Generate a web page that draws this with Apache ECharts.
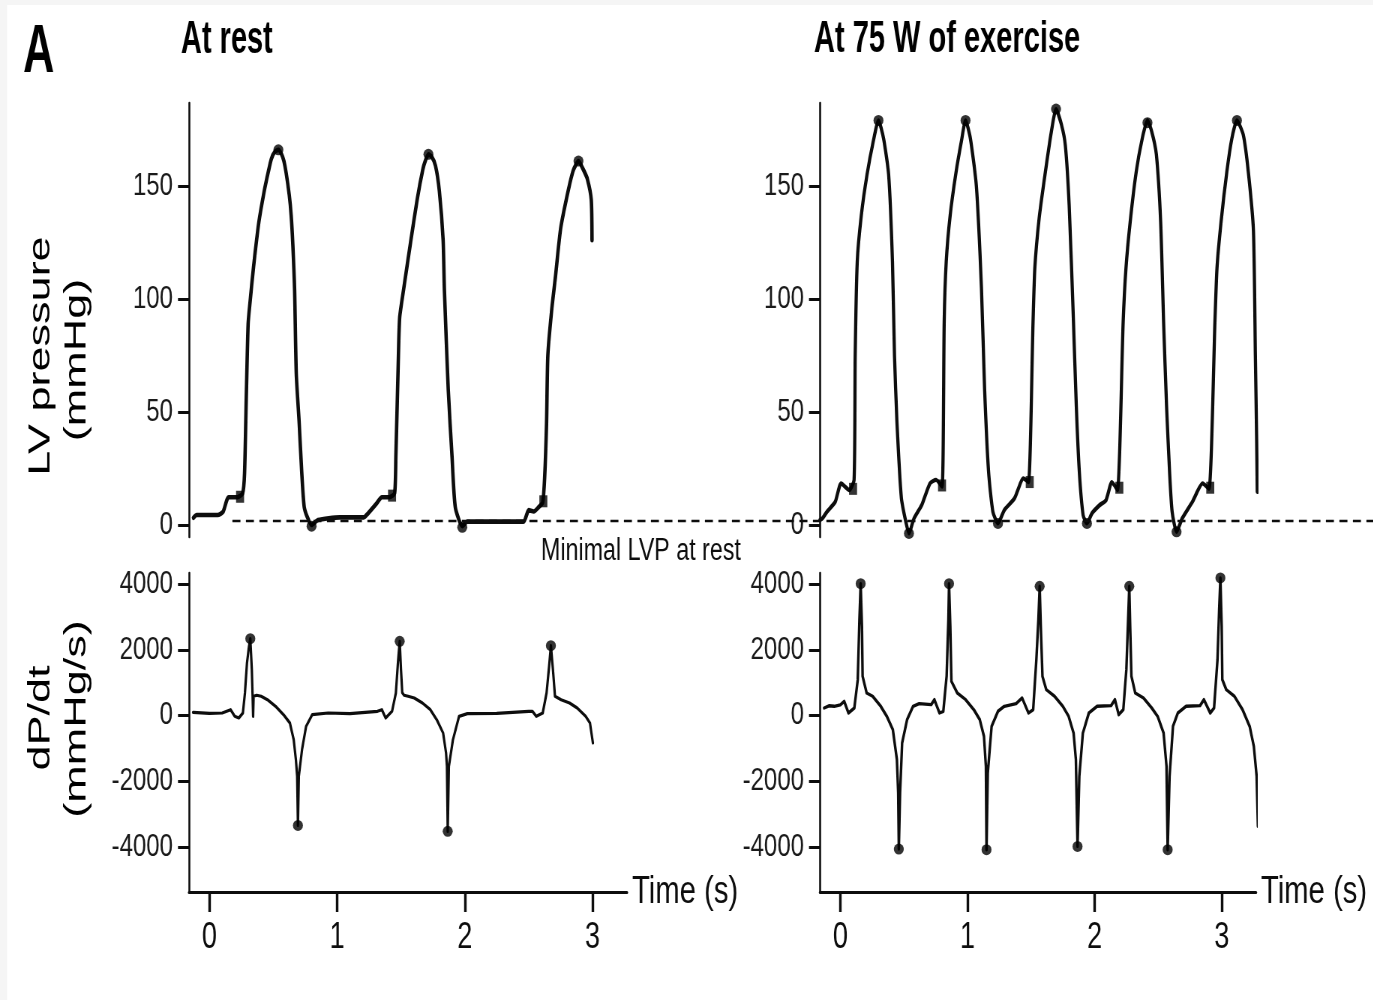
<!DOCTYPE html>
<html>
<head>
<meta charset="utf-8">
<script src="https://cdn.jsdelivr.net/npm/echarts@6/dist/echarts.min.js"></script>
<style>
  html, body { margin: 0; padding: 0; background: #fff; overflow: hidden; }
  #wrap { width: 1373px; height: 1000px; overflow: hidden; position: relative; }
  #chart { height: 1000px; transform-origin: 0 0; position: absolute; left: 0; top: 0; }
</style>
</head>
<body>
<div id="wrap"><div id="chart"></div></div>
<script>
// ---------- tick labels ----------
const timeTicks = [0, 1, 2, 3];
const lvpTicks = [0, 50, 100, 150];
const dpdtTicks = [-4000, -2000, 0, 2000, 4000];

// ---------- texts ----------
const panelLetter = 'A';
const restTitle = 'At rest';
const exerciseTitle = 'At 75 W of exercise';
const lvpNameLines = ['LV pressure', '(mmHg)'];
const dpdtNameLines = ['dP/dt', '(mmHg/s)'];
const timeName = 'Time (s)';
const minLvpLabel = 'Minimal LVP at rest';

// ---------- reference line (minimal LVP at rest, mmHg) ----------
const minLvpLine = [[0.18, 1.8], [9.2, 1.8]];

// ---------- LV pressure at rest [time s, mmHg] ----------
const restLvp = [
  [-0.125,3.2],[-0.10,4.4],[0.065,4.4],[0.107,5.9],[0.15,12.3],[0.22,12.3],[0.26,14],[0.275,23],
  [0.29,60],[0.303,89],[0.317,98],[0.345,114],[0.387,134],[0.43,148],[0.46,156],[0.485,162],
  [0.51,165],[0.54,166],[0.565,164],[0.583,161],[0.60,156],[0.625,146],[0.64,137],[0.653,124],
  [0.667,104],[0.68,67],[0.703,45],[0.723,23],[0.742,8],[0.765,3.7],[0.80,0],[0.85,2.2],
  [1.02,3.4],[1.21,3.4],[1.24,5],[1.31,9.6],[1.35,12.3],[1.41,12.3],[1.45,14],[1.46,30],
  [1.48,75],[1.49,92],[1.52,104],[1.575,125],[1.63,145],[1.67,157],[1.69,161],[1.715,164],
  [1.74,163],[1.77,159],[1.80,148],[1.83,126],[1.84,104],[1.87,60],[1.90,30],[1.925,8],
  [1.98,-0.5],[2.02,1.5],[2.46,1.5],[2.50,6.6],[2.54,6],[2.58,8],[2.61,10],[2.625,21],
  [2.64,45],[2.65,75],[2.68,95],[2.71,110],[2.75,131],[2.81,148],[2.85,157],[2.89,161],
  [2.93,157],[2.96,153],[2.99,144],[2.996,126]
];
const restLvpDots = [[0.54,166],[0.80,-0.5],[1.715,164],[1.98,-1],[2.89,161]];
const restLvpEdp = [[0.24,12.5],[1.43,13],[2.615,10.5]];

// ---------- LV pressure at 75 W [time s, mmHg] ----------
const exLvp = [
  [-0.16,2.2],[-0.14,3],[-0.105,5.9],[-0.04,10.3],[0.006,18.4],[0.07,15.5],[0.108,20],[0.117,75],
  [0.133,116.5],[0.165,137],[0.21,155],[0.26,170],[0.30,179],[0.34,171],[0.38,155],[0.41,116.5],
  [0.426,75],[0.445,46],[0.48,12],[0.515,1.5],[0.54,-3.7],[0.58,3],[0.64,8.8],[0.705,18.4],
  [0.753,20],[0.80,17],[0.817,90],[0.833,116.5],[0.864,137],[0.91,156],[0.953,170],[0.985,179],
  [1.023,171],[1.07,150],[1.11,105],[1.135,60],[1.166,23.6],[1.20,5.9],[1.24,0.7],[1.29,6.6],
  [1.37,11.8],[1.44,20.6],[1.48,19],[1.516,90],[1.53,113.6],[1.564,135.7],[1.61,155],[1.66,174],
  [1.697,184],[1.74,177],[1.77,168],[1.80,141.6],[1.834,90],[1.856,53],[1.88,23.6],[1.91,4.4],
  [1.94,0.7],[1.98,5.2],[2.04,8.8],[2.09,11],[2.136,19],[2.18,15.5],[2.225,90],[2.247,113.6],
  [2.28,134],[2.327,156],[2.375,171],[2.416,179],[2.45,174],[2.486,164],[2.52,134],[2.543,90],
  [2.566,53],[2.59,23.6],[2.61,5.9],[2.645,-3],[2.69,3],[2.77,10.3],[2.85,18.4],[2.90,16],
  [2.947,90],[2.963,113.6],[2.995,134],[3.04,156],[3.08,171],[3.12,179],[3.17,172.6],[3.21,156],
  [3.25,130],[3.265,75],[3.275,38],[3.28,14.7]
];
const exLvpDots = [[0.30,179],[0.54,-3.7],[0.985,179],[1.24,0.7],[1.697,184],[1.94,0.7],[2.416,178],[2.645,-3],[3.12,179]];
const exLvpEdp = [[0.10,16],[0.80,17.5],[1.49,19],[2.195,16.5],[2.91,16.5]];

// ---------- dP/dt at rest [time s, mmHg/s] ----------
const restDpdt = [
  [-0.128,101],[0.0,70],[0.10,81],[0.166,182],[0.198,-20],[0.23,-71],[0.262,81],[0.278,689],
  [0.294,1600],[0.31,2107],[0.32,2340],[0.332,1398],[0.338,600],[0.342,-20],[0.346,590],[0.37,620],
  [0.405,590],[0.454,486],[0.518,284],[0.58,30],[0.63,-223],[0.66,-730],[0.677,-1337],[0.687,-1844],
  [0.693,-3333],[0.70,-1844],[0.725,-1033],[0.757,-324],[0.805,30],[0.93,81],[1.10,60],[1.316,132],
  [1.35,182],[1.38,-71],[1.43,132],[1.46,689],[1.476,1600],[1.49,2259],[1.50,1398],[1.51,700],
  [1.524,620],[1.556,590],[1.604,537],[1.668,385],[1.73,182],[1.78,-122],[1.83,-527],[1.853,-1135],
  [1.86,-1540],[1.866,-3515],[1.875,-1540],[1.907,-730],[1.955,-20],[2.02,61],[2.25,70],[2.5,132],
  [2.53,132],[2.56,-20],[2.61,81],[2.64,689],[2.66,1500],[2.674,2127],[2.69,1398],[2.706,590],
  [2.754,486],[2.82,385],[2.88,233],[2.946,-20],[2.98,-223],[3.003,-830]
];
const restDpdtDots = [[0.32,2340],[0.693,-3333],[1.49,2259],[1.866,-3515],[2.674,2127]];

// ---------- dP/dt at 75 W [time s, mmHg/s] ----------
const exDpdt = [
  [-0.127,233],[-0.09,300],[-0.048,284],[0.0,330],[0.03,435],[0.064,81],[0.11,233],[0.137,1094],
  [0.15,2917],[0.16,4011],[0.17,2715],[0.175,1195],[0.207,689],[0.254,590],[0.318,284],[0.366,-20],
  [0.413,-425],[0.445,-1337],[0.455,-2350],[0.46,-4052],[0.47,-2350],[0.486,-830],[0.525,-122],[0.572,284],
  [0.62,365],[0.715,334],[0.74,486],[0.78,81],[0.81,132],[0.836,1195],[0.85,2917],[0.855,4011],
  [0.865,2715],[0.874,1043],[0.92,689],[0.986,486],[1.05,182],[1.097,-122],[1.13,-628],[1.145,-1540],
  [1.15,-4072],[1.16,-1742],[1.19,-324],[1.24,132],[1.29,284],[1.383,365],[1.43,537],[1.48,81],
  [1.517,182],[1.542,1700],[1.558,2917],[1.568,3930],[1.577,2715],[1.59,1195],[1.62,790],[1.685,590],
  [1.75,284],[1.796,-20],[1.835,-527],[1.853,-1337],[1.866,-3971],[1.88,-1844],[1.908,-527],[1.955,81],
  [2.02,284],[2.13,304],[2.16,486],[2.19,30],[2.226,182],[2.25,1398],[2.264,2917],[2.273,3930],
  [2.28,2715],[2.29,1195],[2.32,689],[2.385,537],[2.45,233],[2.496,-20],[2.543,-527],[2.566,-1540],
  [2.575,-4072],[2.59,-1844],[2.617,-324],[2.655,81],[2.72,284],[2.83,304],[2.86,486],[2.91,81],
  [2.94,233],[2.967,1700],[2.98,3220],[2.99,4184],[3.0,2715],[3.005,1094],[3.036,790],[3.1,590],
  [3.164,182],[3.22,-324],[3.253,-932],[3.275,-1844],[3.285,-3360]
];
const exDpdtDots = [[0.16,4011],[0.46,-4052],[0.855,4011],[1.15,-4072],[1.568,3930],[1.866,-3971],[2.273,3930],[2.575,-4072],[2.99,4184],[3.275,-3768]];

// ---------- layout: the figure is drawn wide and condensed horizontally ----------
const SX = 0.75;                       // horizontal condensation of the whole figure
const W = Math.round(1373 / SX);
const px = v => v / SX;                // screen x -> chart x
const chartEl = document.getElementById('chart');
chartEl.style.width = W + 'px';
chartEl.style.transform = 'scaleX(' + SX + ')';

const SANS = "'Liberation Sans',Arial,Helvetica,sans-serif";
const INK = '#0d0d0d';

const T_MIN = -0.16, T_MAX = 3.27;
const P_MIN = -5.3, P_MAX = 186.7;
const D_MIN = -5357, D_MAX = 4334;
const plainNum = v => String(v);

function timeAxis(gridIndex, visible) {
  return {
    type: 'value', gridIndex, min: T_MIN, max: T_MAX, show: visible,
    name: visible ? timeName : '', nameLocation: 'end', nameGap: px(5),
    nameTextStyle: { fontFamily: SANS, fontSize: 39, color: INK, verticalAlign: 'middle' },
    splitLine: { show: false },
    axisLine: { show: visible, onZero: false, lineStyle: { color: INK, width: 3 } },
    axisTick: { show: visible, length: 20, customValues: timeTicks, lineStyle: { color: INK, width: 3.4 } },
    axisLabel: { show: visible, customValues: timeTicks, margin: 28, fontFamily: SANS, fontSize: 36, color: INK, formatter: plainNum }
  };
}
function valueAxis(gridIndex, min, max, ticks) {
  return {
    type: 'value', gridIndex, min, max,
    splitLine: { show: false },
    axisLine: { show: true, onZero: false, lineStyle: { color: INK, width: 2.6 } },
    axisTick: { show: true, length: px(11), customValues: ticks, lineStyle: { color: INK, width: 3 } },
    axisLabel: { show: true, customValues: ticks, margin: px(16), fontFamily: SANS, fontSize: 32, color: '#1a1a1a', formatter: plainNum }
  };
}
function trace(xi, data, width, smooth) {
  return {
    type: 'line', xAxisIndex: xi, yAxisIndex: xi, data, showSymbol: false, symbol: 'none',
    smooth: smooth || false, lineStyle: { color: INK, width, join: 'round', cap: 'round' }, z: 3, silent: true
  };
}
function dots(xi, data, size, symbol) {
  return {
    type: 'scatter', xAxisIndex: xi, yAxisIndex: xi, data, symbol: symbol || 'circle',
    symbolSize: size, itemStyle: { color: '#000' }, z: 4, silent: true
  };
}

const leftG = { left: px(189), width: px(438) };
const rightG = { left: px(820), width: px(436) };
const pxPerSec = px(438) / (T_MAX - T_MIN);
const DOT = [px(10), 11];
const BOX = [px(8), 12];

const option = {
  backgroundColor: '#fff',
  animation: false,
  grid: [
    { ...leftG, top: 103, height: 434 },
    { ...rightG, top: 103, height: 434 },
    { ...leftG, top: 573, height: 319 },
    { ...rightG, top: 573, height: 319 },
    { left: px(189), right: 0, top: 103, height: 434 }
  ],
  xAxis: [
    timeAxis(0, false), timeAxis(1, false), timeAxis(2, true), timeAxis(3, true),
    { type: 'value', gridIndex: 4, min: T_MIN, max: T_MIN + (W - px(189)) / pxPerSec, show: false }
  ],
  yAxis: [
    valueAxis(0, P_MIN, P_MAX, lvpTicks),
    valueAxis(1, P_MIN, P_MAX, lvpTicks),
    valueAxis(2, D_MIN, D_MAX, dpdtTicks),
    valueAxis(3, D_MIN, D_MAX, dpdtTicks),
    { type: 'value', gridIndex: 4, min: P_MIN, max: P_MAX, show: false }
  ],
  series: [
    trace(0, restLvp, 4.6, 0.2), trace(1, exLvp, 4.3, 0.2), trace(2, restDpdt, 3.2), trace(3, exDpdt, 3.4),
    dots(0, restLvpDots, DOT), dots(1, exLvpDots, DOT),
    dots(2, restDpdtDots, DOT), dots(3, exDpdtDots, DOT),
    dots(0, restLvpEdp, BOX, 'rect'), dots(1, exLvpEdp, BOX, 'rect'),
    {
      type: 'line', xAxisIndex: 4, yAxisIndex: 4, data: minLvpLine, symbol: 'none',
      lineStyle: { color: INK, width: 2.6, type: [px(8), px(5.5)] }, z: 5, silent: true
    }
  ],
  graphic: [
    { type: 'rect', shape: { x: 0, y: 0, width: W, height: 5 }, style: { fill: '#f5f5f5' }, silent: true },
    { type: 'rect', shape: { x: 0, y: 0, width: px(7), height: 1000 }, style: { fill: '#f5f5f5' }, silent: true },
    { type: 'text', x: px(23), y: 53, scaleX: 0.85,
      style: { text: panelLetter, fontSize: 68, fontWeight: 'bold', fontFamily: SANS, fill: '#000', align: 'left', verticalAlign: 'middle' } },
    { type: 'text', x: px(181), y: 40, scaleX: 0.84,
      style: { text: restTitle, fontSize: 46, fontWeight: 'bold', fontFamily: SANS, fill: '#000', align: 'left', verticalAlign: 'middle' } },
    { type: 'text', x: px(814), y: 40, scaleX: 0.86,
      style: { text: exerciseTitle, fontSize: 45, fontWeight: 'bold', fontFamily: SANS, fill: '#000', align: 'left', verticalAlign: 'middle' } },
    { type: 'text', x: px(41), y: 356, rotation: Math.PI / 2, scaleY: 0.9,
      style: { text: lvpNameLines[0], fontSize: 45, fontFamily: SANS, fill: '#000', align: 'center', verticalAlign: 'middle' } },
    { type: 'text', x: px(77), y: 360, rotation: Math.PI / 2, scaleY: 0.9,
      style: { text: lvpNameLines[1], fontSize: 45, fontFamily: SANS, fill: '#000', align: 'center', verticalAlign: 'middle' } },
    { type: 'text', x: px(41), y: 718, rotation: Math.PI / 2, scaleY: 0.9,
      style: { text: dpdtNameLines[0], fontSize: 45, fontFamily: SANS, fill: '#000', align: 'center', verticalAlign: 'middle' } },
    { type: 'text', x: px(77), y: 719, rotation: Math.PI / 2, scaleY: 0.9,
      style: { text: dpdtNameLines[1], fontSize: 45, fontFamily: SANS, fill: '#000', align: 'center', verticalAlign: 'middle' } },
    { type: 'text', x: px(541), y: 551,
      style: { text: minLvpLabel, fontSize: 31, fontFamily: SANS, fill: INK, align: 'left', verticalAlign: 'middle' } }
  ]
};

const chart = echarts.init(chartEl, null, { renderer: 'canvas' });
chart.setOption(option);
</script>
</body>
</html>
